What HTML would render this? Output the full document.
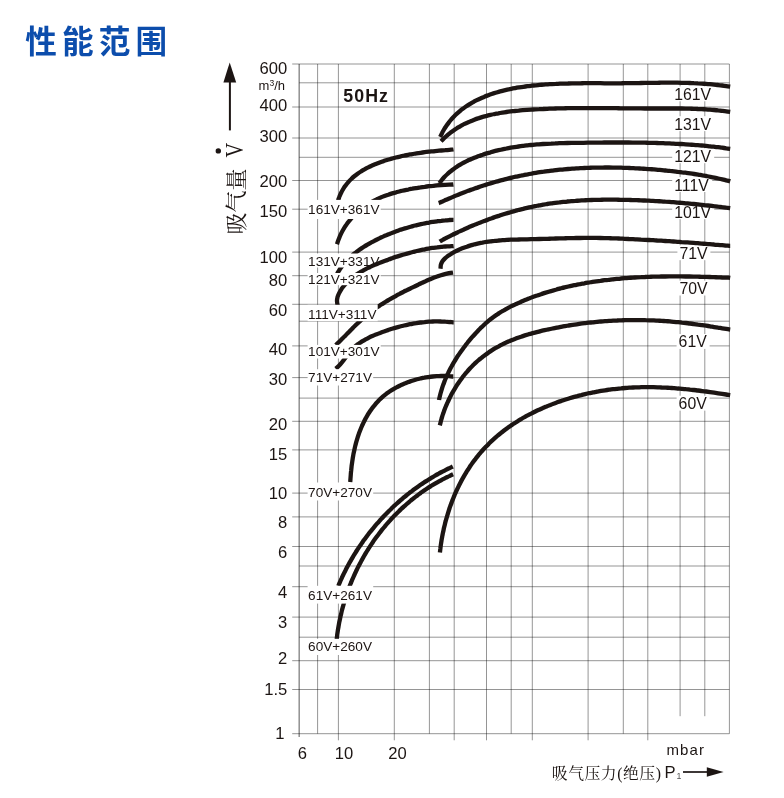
<!DOCTYPE html>
<html lang="zh-CN"><head><meta charset="utf-8"><title>性能范围</title>
<style>
html,body{margin:0;padding:0;background:#fff}
body{width:784px;height:798px;position:relative;overflow:hidden;font-family:"Liberation Sans","Noto Sans CJK SC",sans-serif}
h1{position:absolute;left:25.2px;top:19.1px;margin:0;font:bold 31.6px/46px "Liberation Sans","Noto Sans CJK SC",sans-serif;color:#0c4dac;letter-spacing:5.2px;white-space:nowrap}
svg text{font-family:"Liberation Sans","Noto Sans CJK SC",sans-serif;fill:#1c1513}
svg .ll{font-size:13.6px}
svg .rl{font-size:15.8px}
svg .ax{font-size:16.6px}
svg .unit{font-size:13px}
svg .mbar{font-size:15px;letter-spacing:1.15px}
svg .hz{font-size:17.8px;font-weight:bold;letter-spacing:1.1px}
svg .ytitle{font-family:"Liberation Serif","Noto Serif CJK SC",serif;font-size:22px}
svg .yv{font-family:"Liberation Serif","Noto Serif CJK SC",serif;font-size:25.4px}
svg .xtitle{font-family:"Liberation Serif","Noto Serif CJK SC",serif;font-size:15.8px;letter-spacing:.55px}
svg .xp{font-size:16.6px}
svg .xsub{font-size:8.8px;fill:#555}
</style></head><body>
<h1>性能范围</h1>
<svg width="784" height="798" viewBox="0 0 784 798" style="position:absolute;left:0;top:0">
<path d="M292.2 64.0H729.4M299.2 82.8H729.4M292.2 107.0H729.4M292.2 138.0H729.4M299.2 157.3H729.4M292.2 180.5H729.4M292.2 209.2H729.4M292.2 252.1H729.4M292.2 275.7H729.4M292.2 304.3H729.4M299.2 321.2H729.4M292.2 345.9H729.4M292.2 377.6H729.4M299.2 398.1H729.4M292.2 421.3H729.4M292.2 449.9H729.4M292.2 493.1H729.4M292.2 516.9H729.4M292.2 546.5H729.4M299.2 566.0H729.4M292.2 586.7H729.4M292.2 617.1H729.4M299.2 637.2H729.4M292.2 660.7H729.4M292.2 689.5H729.4M292.2 733.7H729.4" fill="none" stroke="#000" stroke-opacity="0.44" stroke-width="0.95"/>
<path d="M317.6 64.0V733.7M338.4 64.0V740.3M394.3 64.0V740.3M429.4 64.0V733.7M454.2 64.0V740.3M486.5 64.0V740.3M511.2 64.0V733.7M532.3 64.0V740.3M588.1 64.0V740.3M623.3 64.0V733.7M647.8 64.0V740.3M680.1 64.0V716.2M704.8 64.0V716.2M729.4 64.0V733.7" fill="none" stroke="#000" stroke-opacity="0.44" stroke-width="0.95"/>
<path d="M299.2 64.0V737" fill="none" stroke="#000" stroke-opacity="0.44" stroke-width="1.5"/>
<rect x="672.2" y="86.4" width="42.0" height="14.9" fill="#fff"/>
<rect x="672.2" y="116.2" width="42.0" height="14.9" fill="#fff"/>
<rect x="672.2" y="148.3" width="42.0" height="14.9" fill="#fff"/>
<rect x="672.2" y="177.1" width="40.0" height="14.9" fill="#fff"/>
<rect x="672.2" y="204.3" width="42.0" height="14.9" fill="#fff"/>
<rect x="677.4" y="245.3" width="33.0" height="14.9" fill="#fff"/>
<rect x="677.4" y="280.6" width="33.0" height="14.9" fill="#fff"/>
<rect x="676.6" y="334.0" width="33.0" height="14.9" fill="#fff"/>
<rect x="676.6" y="395.7" width="33.0" height="14.9" fill="#fff"/>
<path d="M440.2 137.0C440.5 136.4 441.4 134.4 442.0 133.2C442.6 131.9 443.3 130.7 444.0 129.5C444.7 128.3 445.5 127.1 446.3 126.0C447.0 124.8 447.8 123.7 448.7 122.7C449.5 121.6 450.4 120.5 451.2 119.5C452.1 118.5 453.0 117.5 454.0 116.5C454.9 115.6 455.9 114.6 456.9 113.7C457.9 112.8 458.9 112.0 459.9 111.1C460.9 110.2 462.0 109.4 463.1 108.6C464.1 107.8 465.2 107.0 466.3 106.3C467.5 105.5 468.6 104.8 469.7 104.1C470.9 103.4 472.0 102.7 473.2 102.1C474.4 101.4 475.6 100.8 476.8 100.2C478.0 99.6 479.2 99.0 480.4 98.5C481.6 97.9 482.8 97.4 484.1 96.9C485.3 96.3 486.6 95.8 487.8 95.4C489.1 94.9 490.4 94.4 491.6 94.0C492.9 93.6 494.2 93.2 495.5 92.8C496.8 92.4 498.1 92.0 499.4 91.6C500.7 91.3 502.0 90.9 503.3 90.6C504.6 90.3 506.0 90.0 507.3 89.7C508.6 89.4 509.9 89.1 511.3 88.8C512.6 88.5 514.0 88.3 515.3 88.1C516.6 87.8 518.0 87.6 519.3 87.4C520.7 87.2 522.0 87.0 523.4 86.8C524.7 86.6 526.1 86.4 527.4 86.2C528.8 86.1 530.1 85.9 531.5 85.7C532.9 85.6 534.2 85.4 535.6 85.3C536.9 85.2 538.3 85.1 539.6 84.9C541.0 84.8 542.3 84.7 543.7 84.6C545.0 84.5 546.4 84.4 547.7 84.3C549.1 84.2 550.4 84.2 551.8 84.1C553.1 84.0 554.5 83.9 555.9 83.9C557.2 83.8 558.6 83.8 559.9 83.7C561.3 83.6 562.6 83.6 564.0 83.6C565.3 83.5 566.7 83.5 568.0 83.5C569.4 83.4 570.7 83.4 572.1 83.4C573.4 83.3 574.8 83.3 576.1 83.3C577.5 83.3 578.8 83.3 580.2 83.3C581.5 83.3 582.9 83.2 584.2 83.2C585.6 83.2 586.9 83.2 588.3 83.2C589.6 83.2 591.0 83.2 592.3 83.2C593.7 83.2 595.0 83.2 596.4 83.2C597.7 83.2 599.1 83.2 600.4 83.2C601.8 83.3 603.1 83.3 604.5 83.3C605.8 83.3 607.2 83.3 608.5 83.3C609.9 83.3 611.2 83.3 612.6 83.3C613.9 83.3 615.3 83.3 616.6 83.3C618.0 83.3 619.3 83.3 620.7 83.3C622.0 83.3 623.4 83.2 624.7 83.2C626.1 83.2 627.5 83.2 628.8 83.2C630.2 83.2 631.5 83.2 632.9 83.1C634.2 83.1 635.6 83.1 636.9 83.1C638.3 83.1 639.6 83.0 641.0 83.0C642.3 83.0 643.7 83.0 645.1 82.9C646.4 82.9 647.8 82.9 649.1 82.9C650.5 82.9 651.8 82.8 653.2 82.8C654.5 82.8 655.9 82.8 657.3 82.8C658.6 82.8 660.0 82.7 661.3 82.7C662.7 82.7 664.0 82.7 665.4 82.7C666.7 82.7 668.1 82.7 669.4 82.7C670.8 82.7 672.2 82.7 673.5 82.7C674.9 82.7 676.2 82.7 677.6 82.7C678.9 82.8 680.3 82.8 681.6 82.8C683.0 82.8 684.3 82.9 685.7 82.9C687.0 82.9 688.4 83.0 689.8 83.0C691.1 83.1 692.5 83.1 693.8 83.2C695.2 83.2 696.5 83.3 697.9 83.4C699.2 83.4 700.6 83.5 701.9 83.6C703.3 83.7 704.6 83.8 706.0 83.9C707.3 84.0 708.7 84.1 710.0 84.2C711.4 84.3 712.7 84.5 714.0 84.6C715.4 84.7 716.7 84.9 718.1 85.0C719.4 85.2 720.8 85.4 722.1 85.5C723.5 85.7 724.8 85.9 726.2 86.1C727.5 86.3 729.5 86.6 730.2 86.7" fill="none" stroke="#1c1513" stroke-width="4.3" stroke-linejoin="round"/>
<path d="M441.0 141.3C441.5 140.8 443.0 139.3 444.0 138.3C445.0 137.3 446.1 136.4 447.1 135.5C448.2 134.6 449.2 133.7 450.3 132.8C451.4 132.0 452.5 131.2 453.6 130.4C454.7 129.6 455.9 128.9 457.0 128.2C458.2 127.5 459.3 126.8 460.5 126.1C461.7 125.5 462.8 124.8 464.0 124.2C465.2 123.6 466.4 123.0 467.7 122.5C468.9 121.9 470.1 121.4 471.3 120.9C472.6 120.4 473.8 119.9 475.1 119.4C476.3 119.0 477.6 118.5 478.9 118.1C480.1 117.7 481.4 117.3 482.7 116.9C484.0 116.6 485.3 116.2 486.6 115.9C487.9 115.5 489.2 115.2 490.5 114.9C491.8 114.6 493.1 114.3 494.5 114.0C495.8 113.8 497.1 113.5 498.4 113.3C499.8 113.0 501.1 112.8 502.4 112.6C503.8 112.4 505.1 112.2 506.5 112.0C507.8 111.8 509.2 111.6 510.5 111.4C511.9 111.3 513.2 111.1 514.6 111.0C516.0 110.8 517.3 110.7 518.7 110.6C520.0 110.4 521.4 110.3 522.8 110.2C524.1 110.1 525.5 110.0 526.9 109.9C528.2 109.8 529.6 109.7 531.0 109.6C532.3 109.5 533.7 109.5 535.1 109.4C536.4 109.3 537.8 109.2 539.1 109.2C540.5 109.1 541.9 109.0 543.2 109.0C544.6 108.9 546.0 108.8 547.3 108.8C548.7 108.7 550.0 108.7 551.4 108.6C552.8 108.6 554.1 108.5 555.5 108.5C556.8 108.5 558.2 108.4 559.5 108.4C560.9 108.4 562.3 108.3 563.6 108.3C565.0 108.3 566.3 108.2 567.7 108.2C569.0 108.2 570.4 108.2 571.8 108.2C573.1 108.2 574.5 108.1 575.8 108.1C577.2 108.1 578.5 108.1 579.9 108.1C581.2 108.1 582.6 108.1 584.0 108.1C585.3 108.1 586.7 108.1 588.0 108.1C589.4 108.1 590.7 108.1 592.1 108.1C593.4 108.1 594.8 108.1 596.1 108.1C597.5 108.1 598.8 108.1 600.2 108.1C601.5 108.1 602.9 108.1 604.3 108.1C605.6 108.1 607.0 108.1 608.3 108.2C609.7 108.2 611.0 108.2 612.4 108.2C613.7 108.2 615.1 108.2 616.4 108.2C617.8 108.2 619.1 108.3 620.5 108.3C621.8 108.3 623.2 108.3 624.5 108.3C625.9 108.3 627.3 108.3 628.6 108.3C630.0 108.4 631.3 108.4 632.7 108.4C634.0 108.4 635.4 108.4 636.7 108.4C638.1 108.4 639.4 108.4 640.8 108.4C642.1 108.4 643.5 108.4 644.9 108.5C646.2 108.5 647.6 108.5 648.9 108.5C650.3 108.5 651.6 108.5 653.0 108.5C654.4 108.5 655.7 108.5 657.1 108.5C658.4 108.5 659.8 108.5 661.1 108.5C662.5 108.5 663.9 108.5 665.2 108.5C666.6 108.5 667.9 108.5 669.3 108.5C670.6 108.5 672.0 108.5 673.4 108.5C674.7 108.5 676.1 108.5 677.4 108.5C678.8 108.5 680.2 108.5 681.5 108.5C682.9 108.6 684.2 108.6 685.6 108.6C686.9 108.6 688.3 108.7 689.7 108.7C691.0 108.7 692.4 108.8 693.7 108.8C695.1 108.9 696.4 108.9 697.8 109.0C699.2 109.0 700.5 109.1 701.9 109.1C703.2 109.2 704.6 109.3 705.9 109.4C707.3 109.5 708.6 109.6 710.0 109.7C711.3 109.8 712.7 109.9 714.0 110.0C715.4 110.1 716.7 110.2 718.1 110.4C719.4 110.5 720.8 110.7 722.1 110.8C723.5 111.0 724.8 111.2 726.2 111.3C727.5 111.5 729.5 111.8 730.2 111.9" fill="none" stroke="#1c1513" stroke-width="4.3" stroke-linejoin="round"/>
<path d="M439.4 183.2C439.8 182.6 441.0 181.0 441.9 179.9C442.8 178.8 443.7 177.8 444.6 176.8C445.6 175.8 446.5 174.9 447.5 174.0C448.5 173.0 449.5 172.2 450.6 171.3C451.6 170.5 452.7 169.6 453.7 168.9C454.8 168.1 455.9 167.3 457.1 166.6C458.2 165.8 459.3 165.1 460.5 164.5C461.6 163.8 462.8 163.1 464.0 162.5C465.2 161.9 466.4 161.3 467.6 160.7C468.9 160.1 470.1 159.6 471.3 159.0C472.6 158.5 473.8 158.0 475.1 157.5C476.4 157.0 477.6 156.5 478.9 156.0C480.2 155.6 481.5 155.1 482.8 154.7C484.0 154.2 485.3 153.8 486.6 153.4C487.9 153.0 489.3 152.6 490.6 152.3C491.9 151.9 493.2 151.5 494.5 151.2C495.8 150.9 497.2 150.5 498.5 150.2C499.8 149.9 501.1 149.6 502.5 149.3C503.8 149.0 505.1 148.8 506.5 148.5C507.8 148.2 509.2 148.0 510.5 147.7C511.9 147.5 513.2 147.3 514.6 147.1C515.9 146.9 517.3 146.7 518.6 146.5C520.0 146.3 521.3 146.1 522.7 145.9C524.0 145.7 525.4 145.6 526.7 145.4C528.1 145.3 529.5 145.1 530.8 145.0C532.2 144.9 533.5 144.7 534.9 144.6C536.2 144.5 537.6 144.4 538.9 144.3C540.3 144.2 541.7 144.1 543.0 144.0C544.4 143.9 545.7 143.8 547.1 143.8C548.4 143.7 549.8 143.6 551.1 143.6C552.5 143.5 553.8 143.4 555.2 143.4C556.5 143.3 557.9 143.3 559.2 143.2C560.6 143.2 562.0 143.2 563.3 143.1C564.7 143.1 566.0 143.1 567.4 143.0C568.7 143.0 570.1 143.0 571.4 142.9C572.8 142.9 574.1 142.9 575.5 142.9C576.9 142.9 578.2 142.8 579.6 142.8C580.9 142.8 582.3 142.8 583.6 142.8C585.0 142.7 586.3 142.7 587.7 142.7C589.1 142.7 590.4 142.7 591.8 142.6C593.1 142.6 594.5 142.6 595.9 142.6C597.2 142.6 598.6 142.6 599.9 142.6C601.3 142.6 602.7 142.5 604.0 142.5C605.4 142.5 606.7 142.5 608.1 142.5C609.5 142.5 610.8 142.5 612.2 142.5C613.5 142.5 614.9 142.5 616.3 142.5C617.6 142.5 619.0 142.5 620.3 142.5C621.7 142.5 623.1 142.5 624.4 142.5C625.8 142.5 627.1 142.5 628.5 142.5C629.9 142.5 631.2 142.5 632.6 142.6C634.0 142.6 635.3 142.6 636.7 142.6C638.0 142.6 639.4 142.6 640.8 142.7C642.1 142.7 643.5 142.7 644.8 142.7C646.2 142.7 647.6 142.8 648.9 142.8C650.3 142.8 651.6 142.9 653.0 142.9C654.4 142.9 655.7 143.0 657.1 143.0C658.4 143.0 659.8 143.1 661.2 143.1C662.5 143.2 663.9 143.2 665.2 143.3C666.6 143.3 667.9 143.4 669.3 143.4C670.7 143.5 672.0 143.6 673.4 143.6C674.7 143.7 676.1 143.8 677.5 143.8C678.8 143.9 680.2 144.0 681.5 144.0C682.9 144.1 684.2 144.2 685.6 144.3C686.9 144.4 688.3 144.5 689.7 144.6C691.0 144.7 692.4 144.8 693.7 144.9C695.1 145.0 696.4 145.1 697.8 145.2C699.1 145.3 700.5 145.4 701.8 145.5C703.2 145.6 704.5 145.8 705.9 145.9C707.2 146.0 708.6 146.2 710.0 146.3C711.3 146.5 712.7 146.6 714.0 146.7C715.4 146.9 716.7 147.1 718.1 147.2C719.4 147.4 720.8 147.5 722.1 147.7C723.5 147.9 724.8 148.1 726.2 148.3C727.5 148.4 729.5 148.7 730.2 148.8" fill="none" stroke="#1c1513" stroke-width="4.3" stroke-linejoin="round"/>
<path d="M438.7 203.1C439.3 202.9 441.2 202.0 442.4 201.5C443.7 200.9 444.9 200.4 446.2 199.8C447.4 199.3 448.7 198.7 449.9 198.2C451.2 197.7 452.4 197.2 453.7 196.6C454.9 196.1 456.2 195.6 457.5 195.1C458.7 194.6 460.0 194.1 461.2 193.6C462.5 193.1 463.8 192.6 465.1 192.1C466.3 191.6 467.6 191.1 468.9 190.6C470.2 190.2 471.4 189.7 472.7 189.2C474.0 188.8 475.3 188.3 476.6 187.9C477.8 187.4 479.1 187.0 480.4 186.5C481.7 186.1 483.0 185.7 484.3 185.3C485.6 184.9 486.9 184.4 488.2 184.0C489.5 183.6 490.8 183.2 492.1 182.9C493.4 182.5 494.7 182.1 496.0 181.7C497.3 181.4 498.6 181.0 499.9 180.6C501.2 180.3 502.6 179.9 503.9 179.6C505.2 179.3 506.5 178.9 507.8 178.6C509.1 178.3 510.5 178.0 511.8 177.6C513.1 177.3 514.4 177.0 515.8 176.7C517.1 176.4 518.4 176.2 519.7 175.9C521.1 175.6 522.4 175.3 523.7 175.1C525.1 174.8 526.4 174.5 527.7 174.3C529.1 174.0 530.4 173.8 531.7 173.6C533.1 173.3 534.4 173.1 535.8 172.9C537.1 172.7 538.4 172.5 539.8 172.2C541.1 172.0 542.5 171.8 543.8 171.7C545.1 171.5 546.5 171.3 547.8 171.1C549.2 170.9 550.5 170.8 551.9 170.6C553.2 170.4 554.6 170.3 555.9 170.1C557.3 170.0 558.6 169.8 560.0 169.7C561.3 169.6 562.7 169.5 564.0 169.3C565.4 169.2 566.8 169.1 568.1 169.0C569.5 168.9 570.8 168.8 572.2 168.7C573.5 168.6 574.9 168.5 576.2 168.4C577.6 168.3 579.0 168.3 580.3 168.2C581.7 168.1 583.0 168.1 584.4 168.0C585.8 167.9 587.1 167.9 588.5 167.8C589.8 167.8 591.2 167.7 592.6 167.7C593.9 167.7 595.3 167.6 596.6 167.6C598.0 167.6 599.4 167.6 600.7 167.6C602.1 167.6 603.5 167.5 604.8 167.5C606.2 167.5 607.5 167.5 608.9 167.5C610.3 167.6 611.6 167.6 613.0 167.6C614.4 167.6 615.7 167.6 617.1 167.7C618.4 167.7 619.8 167.7 621.2 167.7C622.5 167.8 623.9 167.8 625.2 167.9C626.6 167.9 628.0 168.0 629.3 168.0C630.7 168.1 632.1 168.1 633.4 168.2C634.8 168.3 636.1 168.3 637.5 168.4C638.9 168.5 640.2 168.5 641.6 168.6C642.9 168.7 644.3 168.8 645.6 168.9C647.0 169.0 648.4 169.1 649.7 169.1C651.1 169.2 652.4 169.3 653.8 169.4C655.1 169.5 656.5 169.6 657.8 169.8C659.2 169.9 660.5 170.0 661.9 170.1C663.2 170.2 664.6 170.4 666.0 170.5C667.3 170.6 668.7 170.7 670.0 170.9C671.4 171.0 672.7 171.2 674.0 171.3C675.4 171.5 676.7 171.6 678.1 171.8C679.4 171.9 680.8 172.1 682.1 172.3C683.5 172.4 684.8 172.6 686.2 172.8C687.5 173.0 688.8 173.2 690.2 173.4C691.5 173.6 692.9 173.8 694.2 174.0C695.6 174.2 696.9 174.4 698.2 174.6C699.6 174.8 700.9 175.1 702.3 175.3C703.6 175.5 704.9 175.8 706.3 176.0C707.6 176.3 708.9 176.6 710.3 176.8C711.6 177.1 712.9 177.4 714.3 177.6C715.6 177.9 716.9 178.2 718.3 178.5C719.6 178.8 720.9 179.1 722.3 179.4C723.6 179.7 724.9 180.0 726.2 180.4C727.6 180.7 729.6 181.2 730.2 181.4" fill="none" stroke="#1c1513" stroke-width="4.3" stroke-linejoin="round"/>
<path d="M439.7 241.5C440.3 241.1 442.1 240.2 443.3 239.5C444.5 238.9 445.7 238.3 446.9 237.6C448.1 237.0 449.3 236.4 450.5 235.8C451.7 235.2 453.0 234.6 454.2 234.0C455.4 233.4 456.6 232.8 457.9 232.2C459.1 231.6 460.3 231.1 461.6 230.5C462.8 229.9 464.0 229.4 465.3 228.8C466.5 228.2 467.8 227.7 469.0 227.1C470.3 226.6 471.5 226.1 472.8 225.5C474.0 225.0 475.3 224.5 476.6 224.0C477.8 223.5 479.1 223.0 480.4 222.5C481.6 222.0 482.9 221.5 484.2 221.0C485.5 220.5 486.7 220.0 488.0 219.6C489.3 219.1 490.6 218.6 491.9 218.2C493.1 217.7 494.4 217.3 495.7 216.8C497.0 216.4 498.3 216.0 499.6 215.6C500.9 215.1 502.2 214.7 503.5 214.3C504.8 213.9 506.1 213.5 507.4 213.1C508.7 212.7 510.0 212.4 511.3 212.0C512.6 211.6 513.9 211.2 515.2 210.9C516.6 210.5 517.9 210.2 519.2 209.8C520.5 209.5 521.8 209.2 523.1 208.9C524.5 208.5 525.8 208.2 527.1 207.9C528.4 207.6 529.8 207.3 531.1 207.0C532.4 206.8 533.8 206.5 535.1 206.2C536.4 205.9 537.7 205.7 539.1 205.4C540.4 205.2 541.8 204.9 543.1 204.7C544.4 204.5 545.8 204.3 547.1 204.0C548.4 203.8 549.8 203.6 551.1 203.4C552.5 203.2 553.8 203.1 555.2 202.9C556.5 202.7 557.9 202.5 559.2 202.4C560.6 202.2 561.9 202.1 563.3 201.9C564.6 201.8 566.0 201.7 567.3 201.5C568.7 201.4 570.0 201.3 571.4 201.2C572.7 201.1 574.1 200.9 575.4 200.9C576.8 200.8 578.1 200.7 579.5 200.6C580.9 200.5 582.2 200.4 583.6 200.3C584.9 200.3 586.3 200.2 587.7 200.2C589.0 200.1 590.4 200.0 591.7 200.0C593.1 200.0 594.5 199.9 595.8 199.9C597.2 199.8 598.5 199.8 599.9 199.8C601.3 199.8 602.6 199.7 604.0 199.7C605.4 199.7 606.7 199.7 608.1 199.7C609.4 199.7 610.8 199.7 612.2 199.7C613.5 199.7 614.9 199.7 616.3 199.7C617.6 199.7 619.0 199.8 620.4 199.8C621.7 199.8 623.1 199.8 624.4 199.9C625.8 199.9 627.2 199.9 628.5 199.9C629.9 200.0 631.3 200.0 632.6 200.1C634.0 200.1 635.4 200.1 636.7 200.2C638.1 200.2 639.4 200.3 640.8 200.3C642.2 200.4 643.5 200.5 644.9 200.5C646.2 200.6 647.6 200.6 649.0 200.7C650.3 200.8 651.7 200.8 653.0 200.9C654.4 201.0 655.8 201.1 657.1 201.1C658.5 201.2 659.8 201.3 661.2 201.4C662.6 201.5 663.9 201.6 665.3 201.7C666.6 201.7 668.0 201.8 669.4 201.9C670.7 202.0 672.1 202.1 673.4 202.2C674.8 202.3 676.1 202.5 677.5 202.6C678.9 202.7 680.2 202.8 681.6 202.9C682.9 203.0 684.3 203.1 685.6 203.3C687.0 203.4 688.3 203.5 689.7 203.6C691.1 203.8 692.4 203.9 693.8 204.0C695.1 204.1 696.5 204.3 697.8 204.4C699.2 204.6 700.5 204.7 701.9 204.8C703.2 205.0 704.6 205.1 705.9 205.3C707.3 205.4 708.6 205.6 710.0 205.7C711.3 205.9 712.7 206.0 714.0 206.2C715.4 206.3 716.7 206.5 718.1 206.7C719.4 206.8 720.8 207.0 722.1 207.2C723.5 207.3 724.8 207.5 726.2 207.7C727.5 207.8 729.5 208.1 730.2 208.2" fill="none" stroke="#1c1513" stroke-width="4.3" stroke-linejoin="round"/>
<path d="M440.5 268.8C440.6 268.1 440.6 265.9 440.9 264.6C441.3 263.3 441.9 262.1 442.6 261.0C443.4 259.9 444.4 259.0 445.3 258.1C446.3 257.2 447.4 256.4 448.5 255.6C449.6 254.8 450.8 254.1 451.9 253.4C453.1 252.7 454.3 252.0 455.5 251.4C456.7 250.8 458.0 250.2 459.2 249.6C460.5 249.1 461.7 248.6 463.0 248.1C464.3 247.6 465.6 247.1 466.9 246.7C468.1 246.2 469.4 245.8 470.7 245.4C472.0 245.0 473.3 244.7 474.6 244.3C475.9 244.0 477.3 243.7 478.6 243.4C479.9 243.1 481.2 242.8 482.5 242.6C483.9 242.3 485.2 242.1 486.5 241.9C487.9 241.7 489.2 241.5 490.5 241.3C491.9 241.2 493.2 241.0 494.6 240.9C495.9 240.7 497.3 240.6 498.6 240.5C500.0 240.4 501.3 240.3 502.7 240.2C504.0 240.1 505.4 240.0 506.7 239.9C508.1 239.9 509.4 239.8 510.8 239.7C512.1 239.7 513.5 239.6 514.9 239.6C516.2 239.6 517.6 239.5 518.9 239.5C520.3 239.5 521.7 239.4 523.0 239.4C524.4 239.4 525.7 239.3 527.1 239.3C528.5 239.3 529.8 239.3 531.2 239.2C532.5 239.2 533.9 239.2 535.3 239.1C536.6 239.1 538.0 239.1 539.3 239.0C540.7 239.0 542.1 239.0 543.4 238.9C544.8 238.9 546.1 238.8 547.5 238.8C548.8 238.8 550.2 238.7 551.5 238.7C552.9 238.6 554.2 238.6 555.6 238.5C557.0 238.5 558.3 238.5 559.7 238.4C561.0 238.4 562.4 238.3 563.7 238.3C565.1 238.3 566.4 238.2 567.8 238.2C569.1 238.2 570.5 238.1 571.8 238.1C573.2 238.1 574.5 238.0 575.9 238.0C577.3 238.0 578.6 238.0 580.0 238.0C581.3 237.9 582.7 237.9 584.0 237.9C585.4 237.9 586.7 237.9 588.1 237.9C589.4 237.9 590.8 237.9 592.1 237.9C593.5 237.9 594.9 237.9 596.2 237.9C597.6 238.0 598.9 238.0 600.3 238.0C601.6 238.0 603.0 238.0 604.3 238.1C605.7 238.1 607.1 238.1 608.4 238.2C609.8 238.2 611.1 238.3 612.5 238.3C613.8 238.3 615.2 238.4 616.6 238.4C617.9 238.5 619.3 238.5 620.6 238.6C622.0 238.7 623.3 238.7 624.7 238.8C626.0 238.8 627.4 238.9 628.8 239.0C630.1 239.0 631.5 239.1 632.8 239.1C634.2 239.2 635.5 239.3 636.9 239.3C638.2 239.4 639.6 239.5 641.0 239.6C642.3 239.6 643.7 239.7 645.0 239.8C646.4 239.8 647.7 239.9 649.1 240.0C650.4 240.1 651.8 240.1 653.1 240.2C654.5 240.3 655.8 240.4 657.2 240.5C658.6 240.5 659.9 240.6 661.3 240.7C662.6 240.8 664.0 240.9 665.3 241.0C666.7 241.1 668.0 241.1 669.4 241.2C670.7 241.3 672.1 241.4 673.4 241.5C674.8 241.6 676.1 241.7 677.5 241.8C678.8 241.9 680.2 242.0 681.5 242.1C682.9 242.1 684.2 242.2 685.6 242.3C686.9 242.4 688.3 242.5 689.6 242.6C691.0 242.7 692.4 242.8 693.7 242.9C695.1 243.0 696.4 243.1 697.8 243.2C699.1 243.4 700.5 243.5 701.8 243.6C703.2 243.7 704.5 243.8 705.9 243.9C707.2 244.0 708.6 244.1 709.9 244.2C711.3 244.3 712.6 244.4 714.0 244.5C715.3 244.7 716.7 244.8 718.0 244.9C719.4 245.0 720.7 245.1 722.1 245.2C723.4 245.3 724.8 245.5 726.1 245.6C727.5 245.7 729.5 245.9 730.2 245.9" fill="none" stroke="#1c1513" stroke-width="4.3" stroke-linejoin="round"/>
<path d="M439.0 400.0C439.1 399.4 439.6 397.4 439.9 396.0C440.2 394.7 440.5 393.4 440.9 392.1C441.3 390.8 441.7 389.5 442.1 388.2C442.5 386.9 442.9 385.6 443.4 384.3C443.9 383.1 444.3 381.8 444.8 380.6C445.3 379.3 445.9 378.1 446.4 376.8C446.9 375.6 447.5 374.4 448.1 373.2C448.7 371.9 449.3 370.7 449.9 369.5C450.5 368.3 451.1 367.2 451.8 366.0C452.4 364.8 453.1 363.6 453.8 362.5C454.5 361.3 455.2 360.1 455.9 359.0C456.6 357.9 457.3 356.7 458.1 355.6C458.8 354.5 459.6 353.3 460.4 352.2C461.2 351.1 462.0 350.0 462.8 348.9C463.6 347.8 464.4 346.8 465.2 345.7C466.0 344.6 466.9 343.5 467.7 342.5C468.6 341.4 469.5 340.4 470.3 339.3C471.2 338.3 472.1 337.3 473.0 336.2C473.9 335.2 474.8 334.2 475.7 333.2C476.7 332.2 477.6 331.2 478.5 330.2C479.5 329.2 480.5 328.3 481.4 327.3C482.4 326.4 483.4 325.5 484.4 324.5C485.4 323.6 486.4 322.7 487.4 321.9C488.4 321.0 489.5 320.1 490.5 319.3C491.6 318.4 492.7 317.6 493.8 316.8C494.8 316.0 495.9 315.3 497.1 314.5C498.2 313.8 499.3 313.0 500.4 312.3C501.6 311.6 502.7 310.9 503.9 310.3C505.1 309.6 506.3 308.9 507.4 308.3C508.6 307.7 509.8 307.0 511.0 306.4C512.2 305.8 513.5 305.2 514.7 304.7C515.9 304.1 517.1 303.5 518.4 303.0C519.6 302.4 520.8 301.9 522.1 301.3C523.3 300.8 524.6 300.3 525.8 299.8C527.1 299.3 528.3 298.8 529.6 298.3C530.8 297.8 532.1 297.3 533.4 296.8C534.6 296.4 535.9 295.9 537.2 295.5C538.5 295.0 539.7 294.6 541.0 294.2C542.3 293.7 543.6 293.3 544.9 292.9C546.2 292.5 547.5 292.1 548.8 291.7C550.1 291.3 551.4 290.9 552.7 290.6C554.0 290.2 555.3 289.8 556.6 289.5C557.9 289.1 559.2 288.8 560.5 288.4C561.8 288.1 563.2 287.8 564.5 287.4C565.8 287.1 567.1 286.8 568.4 286.5C569.8 286.2 571.1 285.9 572.4 285.6C573.7 285.3 575.1 285.1 576.4 284.8C577.7 284.5 579.1 284.3 580.4 284.0C581.7 283.8 583.1 283.5 584.4 283.3C585.7 283.0 587.1 282.8 588.4 282.6C589.8 282.4 591.1 282.1 592.5 281.9C593.8 281.7 595.1 281.5 596.5 281.3C597.8 281.1 599.2 280.9 600.5 280.8C601.9 280.6 603.2 280.4 604.6 280.2C605.9 280.1 607.2 279.9 608.6 279.8C609.9 279.6 611.3 279.5 612.6 279.3C614.0 279.2 615.3 279.0 616.7 278.9C618.0 278.8 619.4 278.7 620.7 278.5C622.1 278.4 623.4 278.3 624.7 278.2C626.1 278.1 627.4 278.0 628.8 277.9C630.1 277.8 631.5 277.7 632.8 277.6C634.2 277.5 635.5 277.5 636.9 277.4C638.2 277.3 639.6 277.2 640.9 277.2C642.3 277.1 643.6 277.0 645.0 277.0C646.3 276.9 647.6 276.9 649.0 276.8C650.3 276.8 651.7 276.7 653.0 276.7C654.4 276.7 655.7 276.6 657.1 276.6C658.4 276.6 659.8 276.5 661.1 276.5C662.5 276.5 663.8 276.5 665.2 276.5C666.5 276.4 667.9 276.4 669.2 276.4C670.6 276.4 671.9 276.4 673.3 276.4C674.6 276.4 676.0 276.4 677.3 276.4C678.7 276.4 680.0 276.4 681.4 276.4C682.7 276.5 684.1 276.5 685.5 276.5C686.8 276.5 688.2 276.5 689.5 276.5C690.9 276.6 692.2 276.6 693.6 276.6C694.9 276.6 696.3 276.7 697.6 276.7C699.0 276.7 700.3 276.8 701.7 276.8C703.1 276.8 704.4 276.9 705.8 276.9C707.1 277.0 708.5 277.0 709.8 277.0C711.2 277.1 712.6 277.1 713.9 277.2C715.3 277.2 716.6 277.3 718.0 277.3C719.4 277.4 720.7 277.4 722.1 277.5C723.4 277.5 724.8 277.6 726.2 277.6C727.5 277.7 729.6 277.7 730.2 277.8" fill="none" stroke="#1c1513" stroke-width="4.3" stroke-linejoin="round"/>
<path d="M439.8 425.3C440.0 424.6 440.5 422.7 440.8 421.4C441.2 420.1 441.5 418.8 441.9 417.5C442.3 416.2 442.7 414.9 443.2 413.6C443.6 412.3 444.1 411.0 444.5 409.8C445.0 408.5 445.5 407.2 446.0 406.0C446.6 404.7 447.1 403.5 447.7 402.2C448.2 401.0 448.8 399.8 449.4 398.5C450.0 397.3 450.6 396.1 451.2 394.9C451.9 393.7 452.5 392.5 453.2 391.3C453.9 390.1 454.6 389.0 455.3 387.8C456.0 386.6 456.7 385.5 457.5 384.3C458.2 383.2 459.0 382.1 459.8 381.0C460.6 379.9 461.4 378.8 462.2 377.7C463.0 376.6 463.9 375.5 464.7 374.5C465.6 373.4 466.5 372.4 467.4 371.4C468.3 370.3 469.2 369.3 470.1 368.3C471.0 367.4 472.0 366.4 472.9 365.4C473.9 364.5 474.8 363.5 475.8 362.6C476.8 361.7 477.8 360.8 478.9 359.9C479.9 359.1 480.9 358.2 482.0 357.4C483.0 356.5 484.1 355.7 485.2 354.9C486.3 354.1 487.4 353.3 488.5 352.6C489.6 351.8 490.7 351.1 491.8 350.4C493.0 349.6 494.1 348.9 495.3 348.2C496.4 347.6 497.6 346.9 498.8 346.3C500.0 345.6 501.2 345.0 502.4 344.4C503.6 343.8 504.8 343.2 506.0 342.6C507.2 342.1 508.5 341.5 509.7 341.0C511.0 340.4 512.2 339.9 513.5 339.4C514.7 338.9 516.0 338.5 517.2 338.0C518.5 337.5 519.8 337.1 521.1 336.7C522.4 336.2 523.6 335.8 524.9 335.4C526.2 335.0 527.5 334.6 528.8 334.2C530.1 333.9 531.4 333.5 532.7 333.1C534.1 332.8 535.4 332.5 536.7 332.1C538.0 331.8 539.3 331.5 540.6 331.1C542.0 330.8 543.3 330.5 544.6 330.2C545.9 329.9 547.3 329.6 548.6 329.3C549.9 329.1 551.3 328.8 552.6 328.5C553.9 328.2 555.3 328.0 556.6 327.7C557.9 327.4 559.3 327.2 560.6 326.9C561.9 326.7 563.3 326.5 564.6 326.2C565.9 326.0 567.3 325.8 568.6 325.5C570.0 325.3 571.3 325.1 572.6 324.9C574.0 324.7 575.3 324.5 576.7 324.3C578.0 324.1 579.3 323.9 580.7 323.7C582.0 323.6 583.4 323.4 584.7 323.2C586.1 323.0 587.4 322.9 588.8 322.7C590.1 322.6 591.5 322.4 592.8 322.3C594.2 322.2 595.5 322.0 596.9 321.9C598.2 321.8 599.6 321.6 600.9 321.5C602.3 321.4 603.6 321.3 605.0 321.2C606.3 321.1 607.7 321.0 609.0 320.9C610.4 320.8 611.7 320.8 613.1 320.7C614.4 320.6 615.8 320.5 617.1 320.5C618.5 320.4 619.8 320.4 621.2 320.3C622.5 320.3 623.9 320.2 625.2 320.2C626.6 320.2 627.9 320.1 629.3 320.1C630.7 320.1 632.0 320.1 633.4 320.1C634.7 320.1 636.1 320.1 637.4 320.1C638.8 320.1 640.1 320.1 641.5 320.1C642.8 320.1 644.2 320.1 645.5 320.2C646.9 320.2 648.2 320.2 649.6 320.3C650.9 320.3 652.3 320.4 653.6 320.4C655.0 320.5 656.3 320.6 657.7 320.6C659.0 320.7 660.4 320.8 661.7 320.9C663.1 321.0 664.4 321.0 665.8 321.1C667.1 321.2 668.5 321.3 669.8 321.4C671.1 321.6 672.5 321.7 673.8 321.8C675.2 321.9 676.5 322.0 677.9 322.2C679.2 322.3 680.6 322.4 681.9 322.6C683.3 322.7 684.6 322.9 685.9 323.0C687.3 323.2 688.6 323.3 690.0 323.5C691.3 323.7 692.7 323.8 694.0 324.0C695.3 324.2 696.7 324.4 698.0 324.6C699.4 324.7 700.7 324.9 702.1 325.1C703.4 325.3 704.7 325.5 706.1 325.7C707.4 325.9 708.8 326.1 710.1 326.3C711.4 326.5 712.8 326.8 714.1 327.0C715.5 327.2 716.8 327.4 718.1 327.6C719.5 327.8 720.8 328.1 722.2 328.3C723.5 328.5 724.8 328.7 726.2 328.9C727.5 329.2 729.5 329.5 730.2 329.6" fill="none" stroke="#1c1513" stroke-width="4.3" stroke-linejoin="round"/>
<path d="M439.9 552.5C440.0 551.8 440.2 549.9 440.4 548.5C440.5 547.2 440.7 545.9 440.9 544.5C441.1 543.2 441.3 541.9 441.5 540.6C441.7 539.2 442.0 537.9 442.2 536.6C442.5 535.2 442.7 533.9 443.0 532.6C443.3 531.3 443.6 529.9 443.8 528.6C444.1 527.3 444.5 526.0 444.8 524.7C445.1 523.3 445.4 522.0 445.8 520.7C446.1 519.4 446.5 518.1 446.9 516.8C447.3 515.5 447.7 514.2 448.1 512.9C448.5 511.6 448.9 510.3 449.3 509.0C449.7 507.7 450.2 506.4 450.7 505.1C451.1 503.8 451.6 502.6 452.1 501.3C452.6 500.0 453.1 498.8 453.6 497.5C454.1 496.2 454.6 495.0 455.1 493.7C455.7 492.5 456.2 491.2 456.8 490.0C457.4 488.8 458.0 487.6 458.6 486.3C459.2 485.1 459.8 483.9 460.4 482.7C461.0 481.5 461.6 480.3 462.3 479.1C463.0 477.9 463.6 476.8 464.3 475.6C465.0 474.4 465.7 473.3 466.4 472.1C467.1 471.0 467.8 469.8 468.6 468.7C469.3 467.6 470.0 466.4 470.8 465.3C471.6 464.2 472.3 463.1 473.1 462.0C473.9 460.9 474.7 459.9 475.6 458.8C476.4 457.7 477.2 456.7 478.1 455.6C478.9 454.6 479.8 453.6 480.7 452.5C481.5 451.5 482.4 450.5 483.3 449.5C484.2 448.5 485.2 447.5 486.1 446.6C487.0 445.6 488.0 444.6 488.9 443.7C489.9 442.8 490.8 441.8 491.8 440.9C492.8 440.0 493.8 439.1 494.8 438.2C495.8 437.3 496.8 436.4 497.8 435.5C498.9 434.7 499.9 433.8 501.0 433.0C502.0 432.1 503.1 431.3 504.1 430.5C505.2 429.6 506.3 428.8 507.4 428.1C508.5 427.3 509.6 426.5 510.7 425.7C511.8 425.0 512.9 424.2 514.1 423.5C515.2 422.7 516.3 422.0 517.5 421.3C518.6 420.6 519.8 419.9 521.0 419.2C522.1 418.5 523.3 417.8 524.5 417.2C525.7 416.5 526.9 415.8 528.1 415.2C529.2 414.6 530.5 413.9 531.7 413.3C532.9 412.7 534.1 412.1 535.3 411.5C536.5 410.9 537.8 410.3 539.0 409.8C540.2 409.2 541.5 408.7 542.7 408.1C544.0 407.6 545.2 407.0 546.5 406.5C547.7 406.0 549.0 405.5 550.3 405.0C551.5 404.5 552.8 404.0 554.1 403.5C555.3 403.0 556.6 402.6 557.9 402.1C559.2 401.6 560.5 401.2 561.7 400.8C563.0 400.3 564.3 399.9 565.6 399.5C566.9 399.1 568.2 398.7 569.5 398.3C570.8 397.9 572.1 397.5 573.4 397.1C574.7 396.8 576.0 396.4 577.3 396.1C578.6 395.7 579.9 395.4 581.3 395.1C582.6 394.7 583.9 394.4 585.2 394.1C586.5 393.8 587.8 393.5 589.2 393.2C590.5 392.9 591.8 392.7 593.1 392.4C594.5 392.1 595.8 391.9 597.1 391.6C598.4 391.4 599.8 391.2 601.1 390.9C602.4 390.7 603.8 390.5 605.1 390.3C606.4 390.1 607.8 389.9 609.1 389.7C610.4 389.5 611.8 389.4 613.1 389.2C614.4 389.0 615.8 388.9 617.1 388.8C618.5 388.6 619.8 388.5 621.1 388.4C622.5 388.2 623.8 388.1 625.2 388.0C626.5 387.9 627.9 387.8 629.2 387.7C630.6 387.7 631.9 387.6 633.3 387.5C634.6 387.5 636.0 387.4 637.3 387.4C638.6 387.3 640.0 387.3 641.3 387.2C642.7 387.2 644.0 387.2 645.4 387.2C646.7 387.2 648.1 387.2 649.5 387.2C650.8 387.2 652.2 387.2 653.5 387.2C654.9 387.3 656.2 387.3 657.6 387.3C658.9 387.4 660.3 387.4 661.6 387.5C663.0 387.5 664.3 387.6 665.7 387.6C667.0 387.7 668.4 387.8 669.7 387.9C671.1 388.0 672.4 388.0 673.8 388.1C675.1 388.2 676.5 388.3 677.8 388.5C679.2 388.6 680.5 388.7 681.9 388.8C683.2 388.9 684.6 389.0 685.9 389.2C687.3 389.3 688.6 389.4 690.0 389.6C691.3 389.7 692.7 389.9 694.0 390.0C695.4 390.2 696.7 390.3 698.1 390.5C699.4 390.7 700.8 390.8 702.1 391.0C703.4 391.2 704.8 391.4 706.1 391.5C707.5 391.7 708.8 391.9 710.1 392.1C711.5 392.3 712.8 392.5 714.2 392.7C715.5 392.9 716.8 393.1 718.2 393.3C719.5 393.5 720.8 393.7 722.2 393.9C723.5 394.1 724.8 394.3 726.2 394.5C727.5 394.7 729.5 395.1 730.2 395.2" fill="none" stroke="#1c1513" stroke-width="4.3" stroke-linejoin="round"/>
<path d="M338.1 200.4C338.4 199.6 339.1 197.5 339.6 196.1C340.2 194.7 340.8 193.4 341.4 192.2C342.1 190.9 342.8 189.7 343.5 188.5C344.2 187.3 345.0 186.2 345.9 185.1C346.7 184.0 347.6 182.9 348.5 181.9C349.4 180.9 350.3 179.9 351.3 179.0C352.3 178.0 353.3 177.1 354.3 176.3C355.4 175.4 356.5 174.6 357.6 173.8C358.7 173.0 359.8 172.2 361.0 171.5C362.1 170.7 363.3 170.0 364.5 169.4C365.7 168.7 366.9 168.0 368.2 167.4C369.4 166.8 370.7 166.2 371.9 165.6C373.2 165.1 374.5 164.5 375.8 164.0C377.1 163.5 378.4 163.0 379.7 162.5C381.0 162.0 382.4 161.5 383.7 161.1C385.0 160.6 386.4 160.2 387.7 159.8C389.0 159.4 390.4 159.0 391.7 158.6C393.1 158.3 394.4 157.9 395.8 157.5C397.2 157.2 398.5 156.9 399.9 156.6C401.3 156.2 402.6 155.9 404.0 155.7C405.4 155.4 406.8 155.1 408.1 154.8C409.5 154.6 410.9 154.3 412.3 154.1C413.7 153.9 415.0 153.6 416.4 153.4C417.8 153.2 419.2 153.0 420.6 152.8C422.0 152.6 423.3 152.4 424.7 152.2C426.1 152.1 427.5 151.9 428.9 151.7C430.3 151.6 431.7 151.4 433.0 151.3C434.4 151.2 435.8 151.0 437.2 150.9C438.5 150.8 439.9 150.6 441.3 150.5C442.7 150.4 444.0 150.3 445.4 150.2C446.8 150.0 448.1 149.9 449.5 149.8C450.8 149.7 452.9 149.6 453.5 149.5" fill="none" stroke="#1c1513" stroke-width="4.3" stroke-linejoin="round"/>
<path d="M337.0 244.3C337.2 243.7 337.8 241.6 338.3 240.3C338.8 239.0 339.3 237.7 339.8 236.4C340.4 235.1 341.0 233.8 341.6 232.6C342.2 231.4 342.9 230.2 343.6 229.0C344.3 227.8 345.0 226.6 345.8 225.5C346.6 224.4 347.4 223.2 348.2 222.2C349.1 221.1 349.9 220.0 350.8 219.0C351.7 217.9 352.6 216.9 353.6 216.0C354.5 215.0 355.5 214.0 356.5 213.1C357.5 212.2 358.5 211.3 359.6 210.4C360.6 209.5 361.7 208.6 362.8 207.8C363.9 207.0 365.0 206.2 366.2 205.4C367.3 204.7 368.4 203.9 369.6 203.2C370.8 202.5 372.0 201.8 373.2 201.2C374.4 200.5 375.6 199.9 376.8 199.3C378.1 198.7 379.3 198.2 380.6 197.6C381.8 197.1 383.1 196.6 384.4 196.1C385.7 195.6 387.0 195.1 388.3 194.7C389.6 194.2 390.9 193.8 392.2 193.4C393.5 193.0 394.9 192.6 396.2 192.3C397.5 191.9 398.9 191.6 400.2 191.2C401.6 190.9 402.9 190.6 404.3 190.3C405.6 190.0 407.0 189.7 408.3 189.5C409.7 189.2 411.1 188.9 412.4 188.7C413.8 188.4 415.2 188.2 416.5 188.0C417.9 187.8 419.3 187.6 420.6 187.4C422.0 187.1 423.3 186.9 424.7 186.8C426.1 186.6 427.4 186.4 428.8 186.2C430.1 186.1 431.5 185.9 432.9 185.8C434.2 185.6 435.6 185.5 436.9 185.3C438.3 185.2 439.7 185.1 441.0 185.0C442.4 184.9 443.8 184.8 445.1 184.8C446.5 184.7 447.9 184.6 449.2 184.6C450.6 184.6 452.7 184.6 453.4 184.5" fill="none" stroke="#1c1513" stroke-width="4.3" stroke-linejoin="round"/>
<path d="M335.6 276.7C335.9 276.1 336.9 274.2 337.6 272.9C338.3 271.7 339.1 270.5 339.8 269.3C340.6 268.2 341.4 267.1 342.2 266.0C343.1 264.9 343.9 263.8 344.8 262.8C345.7 261.7 346.7 260.7 347.6 259.8C348.6 258.8 349.5 257.8 350.5 256.9C351.5 256.0 352.6 255.1 353.6 254.2C354.6 253.4 355.7 252.5 356.8 251.7C357.9 250.9 359.0 250.1 360.1 249.3C361.2 248.5 362.4 247.8 363.5 247.0C364.7 246.3 365.9 245.6 367.0 244.9C368.2 244.2 369.4 243.5 370.6 242.8C371.8 242.2 373.1 241.5 374.3 240.9C375.5 240.2 376.7 239.6 378.0 239.0C379.2 238.4 380.5 237.8 381.7 237.2C383.0 236.7 384.2 236.1 385.5 235.6C386.8 235.0 388.0 234.5 389.3 234.0C390.6 233.4 391.9 232.9 393.2 232.4C394.5 231.9 395.8 231.5 397.1 231.0C398.4 230.5 399.7 230.1 401.0 229.6C402.3 229.2 403.6 228.8 404.9 228.4C406.3 228.0 407.6 227.6 408.9 227.2C410.3 226.8 411.6 226.5 412.9 226.1C414.3 225.8 415.6 225.4 416.9 225.1C418.3 224.8 419.6 224.5 421.0 224.2C422.3 223.9 423.7 223.6 425.0 223.3C426.4 223.1 427.7 222.8 429.1 222.6C430.4 222.3 431.8 222.1 433.1 221.9C434.5 221.7 435.9 221.5 437.2 221.3C438.6 221.1 439.9 220.9 441.3 220.8C442.6 220.6 444.0 220.5 445.4 220.4C446.7 220.2 448.1 220.1 449.4 220.0C450.8 219.9 452.8 219.8 453.5 219.8" fill="none" stroke="#1c1513" stroke-width="4.3" stroke-linejoin="round"/>
<path d="M337.6 305.3C337.5 304.6 337.0 302.5 337.0 301.1C336.9 299.7 337.2 298.4 337.5 297.2C337.9 295.9 338.4 294.6 339.0 293.4C339.6 292.2 340.3 291.0 341.0 289.9C341.7 288.7 342.5 287.6 343.4 286.5C344.3 285.4 345.2 284.3 346.2 283.3C347.1 282.3 348.1 281.3 349.2 280.4C350.2 279.4 351.3 278.5 352.4 277.6C353.4 276.8 354.5 275.9 355.7 275.1C356.8 274.3 357.9 273.6 359.1 272.9C360.2 272.1 361.4 271.4 362.6 270.8C363.8 270.1 365.0 269.4 366.2 268.8C367.4 268.2 368.7 267.6 369.9 267.0C371.2 266.4 372.4 265.9 373.7 265.3C374.9 264.8 376.2 264.3 377.5 263.7C378.7 263.2 380.0 262.7 381.3 262.2C382.6 261.7 383.9 261.2 385.2 260.7C386.5 260.3 387.7 259.8 389.0 259.3C390.3 258.8 391.6 258.4 392.9 257.9C394.3 257.5 395.6 257.1 396.9 256.6C398.2 256.2 399.5 255.8 400.8 255.4C402.1 255.0 403.5 254.6 404.8 254.2C406.1 253.8 407.4 253.4 408.8 253.1C410.1 252.7 411.4 252.3 412.8 252.0C414.1 251.7 415.4 251.3 416.8 251.0C418.1 250.7 419.5 250.4 420.8 250.1C422.2 249.8 423.5 249.6 424.9 249.3C426.2 249.0 427.6 248.8 428.9 248.6C430.3 248.3 431.7 248.1 433.0 247.9C434.4 247.7 435.7 247.5 437.1 247.4C438.5 247.2 439.9 247.0 441.2 246.9C442.6 246.8 444.0 246.6 445.3 246.5C446.7 246.4 448.1 246.4 449.5 246.3C450.8 246.2 452.9 246.2 453.6 246.1" fill="none" stroke="#1c1513" stroke-width="4.3" stroke-linejoin="round"/>
<path d="M335.8 345.0C336.3 344.5 337.8 343.1 338.8 342.2C339.8 341.2 340.7 340.3 341.7 339.3C342.7 338.3 343.7 337.4 344.6 336.4C345.6 335.4 346.6 334.4 347.5 333.4C348.5 332.5 349.5 331.5 350.4 330.5C351.4 329.5 352.4 328.5 353.3 327.5C354.3 326.6 355.3 325.6 356.3 324.6C357.3 323.7 358.2 322.7 359.2 321.8C360.3 320.9 361.3 319.9 362.3 319.0C363.3 318.1 364.4 317.2 365.4 316.3C366.4 315.5 367.5 314.6 368.6 313.7C369.6 312.9 370.7 312.1 371.8 311.2C372.9 310.4 374.0 309.6 375.1 308.8C376.2 308.0 377.3 307.2 378.5 306.5C379.6 305.7 380.7 304.9 381.9 304.2C383.0 303.4 384.2 302.7 385.3 302.0C386.5 301.3 387.7 300.6 388.8 299.9C390.0 299.2 391.2 298.5 392.4 297.8C393.6 297.1 394.8 296.5 396.0 295.8C397.2 295.1 398.4 294.5 399.6 293.9C400.9 293.2 402.1 292.6 403.3 292.0C404.5 291.3 405.8 290.7 407.0 290.1C408.2 289.5 409.5 288.9 410.7 288.3C412.0 287.7 413.2 287.1 414.5 286.5C415.7 285.9 416.9 285.3 418.2 284.7C419.4 284.1 420.7 283.5 421.9 282.9C423.2 282.3 424.4 281.7 425.7 281.2C426.9 280.6 428.2 280.0 429.4 279.5C430.7 279.0 431.9 278.4 433.2 277.9C434.5 277.4 435.7 276.9 437.0 276.5C438.3 276.0 439.6 275.6 440.9 275.2C442.2 274.8 443.5 274.4 444.8 274.1C446.2 273.8 447.5 273.5 448.9 273.2C450.2 273.0 452.3 272.7 453.0 272.6" fill="none" stroke="#1c1513" stroke-width="4.3" stroke-linejoin="round"/>
<path d="M335.7 368.8C336.2 368.4 337.7 367.0 338.7 366.0C339.7 365.0 340.6 364.0 341.5 362.9C342.4 361.9 343.2 360.7 344.1 359.6C344.9 358.5 345.7 357.4 346.6 356.2C347.4 355.1 348.3 354.0 349.1 352.9C350.0 351.8 350.9 350.7 351.8 349.7C352.8 348.7 353.8 347.8 354.8 346.8C355.8 345.9 356.9 345.1 357.9 344.3C359.0 343.4 360.2 342.7 361.3 341.9C362.5 341.2 363.6 340.5 364.8 339.8C366.0 339.1 367.3 338.5 368.5 337.8C369.7 337.2 371.0 336.6 372.3 336.1C373.5 335.5 374.8 335.0 376.1 334.4C377.4 333.9 378.7 333.4 380.1 332.9C381.4 332.4 382.7 331.9 384.0 331.5C385.3 331.0 386.7 330.5 388.0 330.1C389.3 329.7 390.6 329.2 392.0 328.8C393.3 328.4 394.6 328.0 396.0 327.6C397.3 327.3 398.7 326.9 400.0 326.5C401.4 326.2 402.7 325.8 404.1 325.5C405.4 325.2 406.8 324.9 408.1 324.6C409.5 324.3 410.9 324.1 412.2 323.8C413.6 323.6 415.0 323.3 416.3 323.1C417.7 322.9 419.1 322.7 420.4 322.5C421.8 322.4 423.2 322.2 424.6 322.1C426.0 321.9 427.3 321.8 428.7 321.7C430.1 321.6 431.5 321.6 432.9 321.5C434.2 321.5 435.6 321.4 437.0 321.4C438.4 321.4 439.8 321.4 441.2 321.5C442.6 321.5 444.0 321.6 445.4 321.7C446.8 321.7 448.2 321.8 449.5 322.0C450.9 322.1 453.0 322.4 453.7 322.4" fill="none" stroke="#1c1513" stroke-width="4.3" stroke-linejoin="round"/>
<path d="M350.2 482.2C350.3 481.6 350.4 479.6 350.5 478.3C350.6 476.9 350.7 475.6 350.8 474.3C350.9 472.9 351.0 471.6 351.2 470.2C351.3 468.8 351.5 467.5 351.6 466.1C351.8 464.8 352.0 463.4 352.2 462.0C352.4 460.7 352.6 459.3 352.8 457.9C353.0 456.6 353.3 455.2 353.5 453.8C353.8 452.5 354.1 451.1 354.4 449.7C354.7 448.4 355.0 447.0 355.3 445.6C355.7 444.3 356.0 442.9 356.4 441.6C356.8 440.2 357.2 438.9 357.6 437.6C358.0 436.2 358.5 434.9 358.9 433.6C359.4 432.3 359.9 431.0 360.4 429.7C360.9 428.4 361.4 427.1 362.0 425.8C362.6 424.6 363.2 423.3 363.8 422.1C364.4 420.8 365.0 419.6 365.7 418.4C366.3 417.2 367.0 416.0 367.7 414.8C368.5 413.6 369.2 412.5 370.0 411.3C370.7 410.2 371.5 409.1 372.3 408.0C373.1 406.9 374.0 405.9 374.9 404.8C375.7 403.8 376.6 402.8 377.6 401.8C378.5 400.8 379.4 399.8 380.4 398.9C381.4 398.0 382.4 397.1 383.4 396.2C384.5 395.3 385.5 394.5 386.6 393.6C387.7 392.8 388.8 392.0 389.9 391.3C391.1 390.5 392.2 389.8 393.4 389.1C394.6 388.4 395.8 387.7 397.0 387.1C398.2 386.4 399.4 385.8 400.7 385.2C401.9 384.6 403.2 384.1 404.4 383.6C405.7 383.0 407.0 382.5 408.3 382.0C409.6 381.6 410.9 381.1 412.2 380.7C413.6 380.3 414.9 379.9 416.2 379.5C417.6 379.2 418.9 378.8 420.3 378.5C421.7 378.2 423.0 377.9 424.4 377.7C425.8 377.4 427.2 377.2 428.5 377.0C429.9 376.8 431.3 376.7 432.7 376.5C434.1 376.4 435.5 376.3 436.8 376.2C438.2 376.1 439.6 376.1 441.0 376.0C442.4 376.0 443.8 376.0 445.1 376.0C446.5 376.0 447.9 376.1 449.3 376.2C450.6 376.3 452.7 376.5 453.3 376.5" fill="none" stroke="#1c1513" stroke-width="4.3" stroke-linejoin="round"/>
<path d="M338.4 585.8C338.6 585.1 339.4 583.2 340.0 582.0C340.5 580.7 341.1 579.5 341.7 578.2C342.2 577.0 342.8 575.7 343.4 574.5C344.0 573.3 344.6 572.0 345.3 570.8C345.9 569.6 346.5 568.4 347.2 567.1C347.8 565.9 348.5 564.7 349.1 563.5C349.8 562.3 350.5 561.1 351.2 559.9C351.8 558.7 352.5 557.6 353.2 556.4C354.0 555.2 354.7 554.0 355.4 552.9C356.1 551.7 356.9 550.5 357.6 549.4C358.4 548.2 359.1 547.1 359.9 545.9C360.7 544.8 361.5 543.7 362.3 542.6C363.0 541.4 363.8 540.3 364.7 539.2C365.5 538.1 366.3 537.0 367.1 535.9C368.0 534.8 368.8 533.7 369.6 532.6C370.5 531.5 371.4 530.5 372.2 529.4C373.1 528.3 374.0 527.3 374.9 526.2C375.7 525.2 376.6 524.1 377.6 523.1C378.5 522.1 379.4 521.0 380.3 520.0C381.2 519.0 382.2 518.0 383.1 517.0C384.0 516.0 385.0 515.0 386.0 514.0C386.9 513.0 387.9 512.1 388.9 511.1C389.8 510.1 390.8 509.2 391.8 508.2C392.8 507.3 393.8 506.3 394.8 505.4C395.8 504.5 396.9 503.5 397.9 502.6C398.9 501.7 400.0 500.8 401.0 499.9C402.0 499.0 403.1 498.1 404.1 497.2C405.2 496.4 406.3 495.5 407.3 494.6C408.4 493.8 409.5 492.9 410.6 492.1C411.7 491.3 412.8 490.4 413.9 489.6C415.0 488.8 416.1 488.0 417.2 487.2C418.3 486.4 419.5 485.6 420.6 484.8C421.7 484.1 422.9 483.3 424.0 482.5C425.2 481.8 426.3 481.0 427.5 480.3C428.6 479.6 429.8 478.8 431.0 478.1C432.2 477.4 433.3 476.7 434.5 476.0C435.7 475.3 436.9 474.6 438.1 474.0C439.3 473.3 440.5 472.6 441.7 472.0C442.9 471.4 444.2 470.7 445.4 470.1C446.6 469.5 447.8 468.9 449.1 468.3C450.3 467.7 452.2 466.8 452.8 466.5" fill="none" stroke="#1c1513" stroke-width="4.3" stroke-linejoin="round"/>
<path d="M336.8 638.9C336.8 638.2 337.1 636.1 337.2 634.8C337.4 633.4 337.6 632.0 337.8 630.7C338.0 629.3 338.3 628.0 338.5 626.6C338.7 625.2 339.0 623.9 339.2 622.5C339.5 621.2 339.8 619.8 340.1 618.5C340.3 617.1 340.6 615.8 341.0 614.4C341.3 613.1 341.6 611.8 341.9 610.4C342.3 609.1 342.6 607.8 343.0 606.4C343.4 605.1 343.7 603.8 344.1 602.5C344.5 601.1 344.9 599.8 345.3 598.5C345.8 597.2 346.2 595.9 346.6 594.6C347.1 593.3 347.5 592.0 348.0 590.7C348.5 589.4 348.9 588.1 349.4 586.8C349.9 585.5 350.4 584.2 350.9 583.0C351.5 581.7 352.0 580.4 352.5 579.1C353.1 577.9 353.6 576.6 354.2 575.4C354.7 574.1 355.3 572.9 355.9 571.6C356.5 570.4 357.1 569.1 357.7 567.9C358.3 566.7 359.0 565.4 359.6 564.2C360.2 563.0 360.9 561.8 361.5 560.6C362.2 559.4 362.9 558.2 363.5 557.0C364.2 555.8 364.9 554.6 365.6 553.4C366.3 552.2 367.0 551.1 367.8 549.9C368.5 548.7 369.2 547.6 370.0 546.4C370.7 545.3 371.5 544.1 372.3 543.0C373.0 541.9 373.8 540.7 374.6 539.6C375.4 538.5 376.2 537.4 377.0 536.3C377.9 535.2 378.7 534.1 379.5 533.0C380.4 531.9 381.2 530.8 382.1 529.7C382.9 528.7 383.8 527.6 384.7 526.6C385.6 525.5 386.4 524.5 387.4 523.4C388.3 522.4 389.2 521.4 390.1 520.4C391.0 519.3 391.9 518.3 392.9 517.3C393.8 516.3 394.8 515.4 395.7 514.4C396.7 513.4 397.7 512.4 398.7 511.5C399.6 510.5 400.6 509.6 401.6 508.6C402.6 507.7 403.7 506.8 404.7 505.9C405.7 504.9 406.7 504.0 407.8 503.1C408.8 502.2 409.9 501.4 410.9 500.5C412.0 499.6 413.1 498.8 414.1 497.9C415.2 497.1 416.3 496.2 417.4 495.4C418.5 494.6 419.6 493.7 420.7 492.9C421.9 492.1 423.0 491.4 424.1 490.6C425.2 489.8 426.4 489.0 427.5 488.3C428.7 487.5 429.9 486.8 431.0 486.0C432.2 485.3 433.4 484.6 434.6 483.9C435.8 483.2 437.0 482.5 438.2 481.8C439.4 481.1 440.6 480.5 441.8 479.8C443.0 479.2 444.3 478.5 445.5 477.9C446.8 477.3 448.0 476.7 449.3 476.1C450.5 475.5 452.4 474.6 453.1 474.3" fill="none" stroke="#1c1513" stroke-width="4.3" stroke-linejoin="round"/>
<rect x="307.6" y="199.9" width="73.1" height="19.1" fill="#fff"/>
<text x="308.1" y="214.0" class="ll">161V+361V</text>
<path d="M307.6 253.4H380.7V259.2L363 267.4H307.6Z" fill="#fff"/>
<text x="308.1" y="265.9" class="ll">131V+331V</text>
<rect x="307.6" y="273.0" width="73.1" height="12.2" fill="#fff"/>
<text x="308.1" y="283.7" class="ll">121V+321V</text>
<rect x="307.6" y="304.8" width="70.1" height="16.4" fill="#fff"/>
<text x="308.1" y="318.7" class="ll">111V+311V</text>
<rect x="307.6" y="344.9" width="73.1" height="13.6" fill="#fff"/>
<text x="308.1" y="356.2" class="ll">101V+301V</text>
<rect x="307.6" y="369.2" width="65.6" height="16.3" fill="#fff"/>
<text x="308.1" y="381.8" class="ll">71V+271V</text>
<rect x="307.6" y="482.5" width="65.6" height="18.0" fill="#fff"/>
<text x="308.1" y="496.8" class="ll">70V+270V</text>
<rect x="307.6" y="585.8" width="65.6" height="17.8" fill="#fff"/>
<text x="308.1" y="599.9" class="ll">61V+261V</text>
<rect x="307.6" y="638.8" width="65.6" height="16.2" fill="#fff"/>
<text x="308.1" y="651.0" class="ll">60V+260V</text>
<text x="674.2" y="99.8" class="rl">161V</text>
<text x="674.2" y="129.6" class="rl">131V</text>
<text x="674.2" y="161.7" class="rl">121V</text>
<text x="674.2" y="190.5" class="rl">111V</text>
<text x="674.2" y="217.7" class="rl">101V</text>
<text x="679.4" y="258.7" class="rl">71V</text>
<text x="679.4" y="294.0" class="rl">70V</text>
<text x="678.6" y="347.4" class="rl">61V</text>
<text x="678.6" y="409.1" class="rl">60V</text>
<text x="287.3" y="74.4" text-anchor="end" class="ax">600</text>
<text x="287.3" y="111.3" text-anchor="end" class="ax">400</text>
<text x="287.3" y="142.4" text-anchor="end" class="ax">300</text>
<text x="287.3" y="187.2" text-anchor="end" class="ax">200</text>
<text x="287.3" y="216.7" text-anchor="end" class="ax">150</text>
<text x="287.3" y="262.9" text-anchor="end" class="ax">100</text>
<text x="287.3" y="285.6" text-anchor="end" class="ax">80</text>
<text x="287.3" y="315.9" text-anchor="end" class="ax">60</text>
<text x="287.3" y="355.3" text-anchor="end" class="ax">40</text>
<text x="287.3" y="385.4" text-anchor="end" class="ax">30</text>
<text x="287.3" y="430.4" text-anchor="end" class="ax">20</text>
<text x="287.3" y="459.8" text-anchor="end" class="ax">15</text>
<text x="287.3" y="499.3" text-anchor="end" class="ax">10</text>
<text x="287.3" y="528.3" text-anchor="end" class="ax">8</text>
<text x="287.3" y="557.9" text-anchor="end" class="ax">6</text>
<text x="287.3" y="598.1" text-anchor="end" class="ax">4</text>
<text x="287.3" y="628.2" text-anchor="end" class="ax">3</text>
<text x="287.3" y="664.3" text-anchor="end" class="ax">2</text>
<text x="287.3" y="694.9" text-anchor="end" class="ax">1.5</text>
<text x="284.4" y="739.4" text-anchor="end" class="ax">1</text>
<text x="258.6" y="90" class="unit">m<tspan dy="-4" font-size="8.5">3</tspan><tspan dy="4">/h</tspan></text>
<text x="302.3" y="758.6" text-anchor="middle" class="ax">6</text>
<text x="343.9" y="758.6" text-anchor="middle" class="ax">10</text>
<text x="397.4" y="758.6" text-anchor="middle" class="ax">20</text>
<text x="666.4" y="754.6" class="mbar">mbar</text>
<text x="343.2" y="101.6" class="hz">50Hz</text>
<path d="M229.9 130.4V80" stroke="#1c1513" stroke-width="2" fill="none"/>
<path d="M229.7 62.5L236.2 82.6H223.4Z" fill="#1c1513"/>
<path d="M683 772H710" stroke="#1c1513" stroke-width="1.7" fill="none"/>
<path d="M723.6 772L706.8 767.2V776.8Z" fill="#1c1513"/>
<circle cx="218.3" cy="150.9" r="2.7" fill="#1c1513"/>
<text transform="translate(243.6 234.4) rotate(-90)" class="ytitle">吸气量</text>
<text transform="translate(242.6 157.6) rotate(-90) scale(0.8 1)" class="yv">V</text>
<text x="551.8" y="779.0" class="xtitle">吸气压力(绝压)</text>
<text x="664.6" y="778.2" class="xp">P</text>
<text x="676.6" y="778.8" class="xsub">1</text>
</svg>
</body></html>
